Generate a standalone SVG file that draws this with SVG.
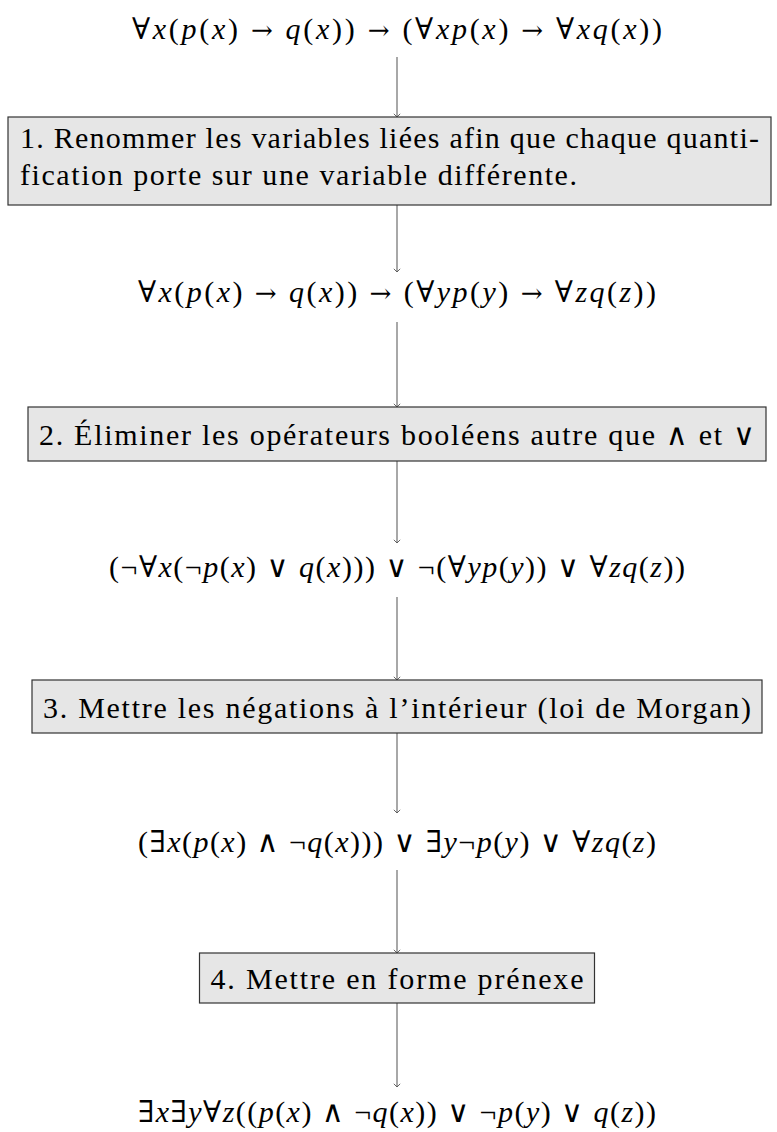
<svg xmlns="http://www.w3.org/2000/svg" width="777" height="1132" viewBox="0 0 777 1132">
<defs>
<style>
.m{font-family:"Liberation Serif","DejaVu Serif",serif;font-size:30px;fill:#000}
.t{font-family:"Liberation Serif","DejaVu Serif",serif;font-size:30px;fill:#000}
.i{font-style:italic}
.a{font-family:"DejaVu Serif",serif;font-size:26px}
.box{fill:#e6e6e6;stroke:#333;stroke-width:1.2}
.c{stroke:#6e6e6e;stroke-width:1.2;fill:none}
</style>
<marker id="tip" viewBox="-5 -5 10 10" markerWidth="10" markerHeight="10" refX="0" refY="0" orient="auto" markerUnits="userSpaceOnUse">
<path d="M-3.2,-3.2 L0,0 L-3.2,3.2" fill="none" stroke="#555" stroke-width="0.9"/>
</marker>
</defs>
<rect width="777" height="1132" fill="#fff"/>
<g id="connectors">
<line class="c" x1="397" y1="57" x2="397" y2="117" marker-end="url(#tip)"/>
<line class="c" x1="397" y1="205" x2="397" y2="272" marker-end="url(#tip)"/>
<line class="c" x1="397" y1="322" x2="397" y2="407" marker-end="url(#tip)"/>
<line class="c" x1="397" y1="461" x2="397" y2="543" marker-end="url(#tip)"/>
<line class="c" x1="397" y1="597" x2="397" y2="680" marker-end="url(#tip)"/>
<line class="c" x1="397" y1="733" x2="397" y2="813" marker-end="url(#tip)"/>
<line class="c" x1="397" y1="870" x2="397" y2="953" marker-end="url(#tip)"/>
<line class="c" x1="397" y1="1003" x2="397" y2="1087" marker-end="url(#tip)"/>
</g>
<g id="f1">
<text class="m" x="132" y="39" textLength="530" lengthAdjust="spacing">∀<tspan class="i">x</tspan>(<tspan class="i">p</tspan>(<tspan class="i">x</tspan>) <tspan class="a">→</tspan> <tspan class="i">q</tspan>(<tspan class="i">x</tspan>)) <tspan class="a">→</tspan> (∀<tspan class="i">xp</tspan>(<tspan class="i">x</tspan>) <tspan class="a">→</tspan> ∀<tspan class="i">xq</tspan>(<tspan class="i">x</tspan>))</text>
</g>
<g id="step1">
<rect class="box" x="8" y="117" width="763" height="88"/>
<text class="t" x="20" y="148" textLength="739" lengthAdjust="spacing">1. Renommer les variables liées afin que chaque quanti-</text>
<text class="t" x="20" y="185" textLength="557" lengthAdjust="spacing">fication porte sur une variable différente.</text>
</g>
<g id="f2">
<text class="m" x="138" y="302" textLength="518" lengthAdjust="spacing">∀<tspan class="i">x</tspan>(<tspan class="i">p</tspan>(<tspan class="i">x</tspan>) <tspan class="a">→</tspan> <tspan class="i">q</tspan>(<tspan class="i">x</tspan>)) <tspan class="a">→</tspan> (∀<tspan class="i">yp</tspan>(<tspan class="i">y</tspan>) <tspan class="a">→</tspan> ∀<tspan class="i">zq</tspan>(<tspan class="i">z</tspan>))</text>
</g>
<g id="step2">
<rect class="box" x="28" y="407" width="738" height="54"/>
<text class="t" x="39" y="445" textLength="716" lengthAdjust="spacing">2. Éliminer les opérateurs booléens autre que ∧ et ∨</text>
</g>
<g id="f3">
<text class="m" x="109" y="577" textLength="576" lengthAdjust="spacing">(¬∀<tspan class="i">x</tspan>(¬<tspan class="i">p</tspan>(<tspan class="i">x</tspan>) ∨ <tspan class="i">q</tspan>(<tspan class="i">x</tspan>))) ∨ ¬(∀<tspan class="i">yp</tspan>(<tspan class="i">y</tspan>)) ∨ ∀<tspan class="i">zq</tspan>(<tspan class="i">z</tspan>))</text>
</g>
<g id="step3">
<rect class="box" x="32" y="680" width="730" height="53"/>
<text class="t" x="43" y="718" textLength="708" lengthAdjust="spacing">3. Mettre les négations à l’intérieur (loi de Morgan)</text>
</g>
<g id="f4">
<text class="m" x="138" y="852" textLength="518" lengthAdjust="spacing">(∃<tspan class="i">x</tspan>(<tspan class="i">p</tspan>(<tspan class="i">x</tspan>) ∧ ¬<tspan class="i">q</tspan>(<tspan class="i">x</tspan>))) ∨ ∃<tspan class="i">y</tspan>¬<tspan class="i">p</tspan>(<tspan class="i">y</tspan>) ∨ ∀<tspan class="i">zq</tspan>(<tspan class="i">z</tspan>)</text>
</g>
<g id="step4">
<rect class="box" x="199.5" y="953" width="395" height="50"/>
<text class="t" x="210.5" y="989" textLength="373" lengthAdjust="spacing">4. Mettre en forme prénexe</text>
</g>
<g id="f5">
<text class="m" x="138" y="1122" textLength="518" lengthAdjust="spacing">∃<tspan class="i">x</tspan>∃<tspan class="i">y</tspan>∀<tspan class="i">z</tspan>((<tspan class="i">p</tspan>(<tspan class="i">x</tspan>) ∧ ¬<tspan class="i">q</tspan>(<tspan class="i">x</tspan>)) ∨ ¬<tspan class="i">p</tspan>(<tspan class="i">y</tspan>) ∨ <tspan class="i">q</tspan>(<tspan class="i">z</tspan>))</text>
</g>
</svg>
